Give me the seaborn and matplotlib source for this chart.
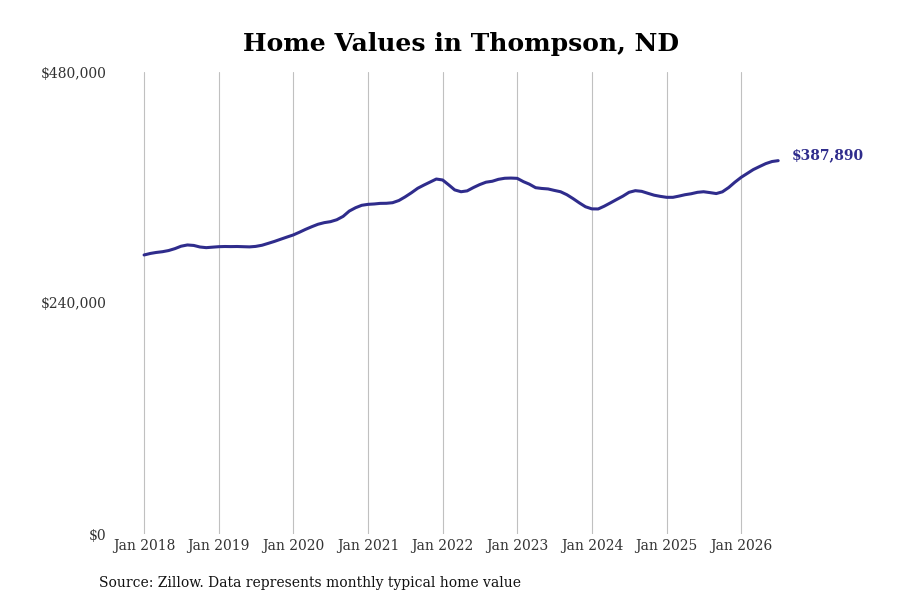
import pandas as pd
import seaborn as sns
import matplotlib.dates as mdates
from matplotlib import pyplot as plt

sns.set_style('white')
plt.rcParams['font.family'] = ['DejaVu Serif']

months = pd.date_range('2018-01-01', '2026-07-01', freq='MS')
values = [
    289900, 291500, 292500, 293300, 294500, 296500, 299000, 300300, 299800, 298200, 297500, 298000,
    298500, 298700, 298600, 298700, 298500, 298300, 298800, 300000, 302000, 304000, 306300, 308500,
    310700, 313600, 316500, 319300, 321800, 323500, 324500, 326500, 330000, 335500, 339000, 341500,
    342500, 342900, 343500, 343600, 344200, 346500, 350200, 354500, 359200, 362500, 365700, 368800,
    367800, 362500, 357500, 355600, 356500, 360000, 363000, 365500, 366500, 368500, 369600, 369800,
    369500, 366000, 363500, 359800, 359000, 358500, 357000, 355600, 352500, 348500, 344000, 340000,
    337800, 337700, 340500, 344000, 347500, 351000, 355000, 356700, 356000, 354000, 352000, 350800,
    349800, 349800, 351000, 352500, 353500, 355000, 355600, 354700, 353700, 355500, 360000, 365500,
    370600, 374800, 378600, 381800, 384800, 387000, 387890,
]
df = pd.DataFrame({'Month': months, 'Value': values})

yticks = [0, 240000, 480000]
ytick_labels = ['$0', '$240,000', '$480,000']
line_color = '#2f2c8c'

fig = plt.figure(figsize=(9, 6), dpi=100)
ax = fig.add_axes([0.124, 0.11, 0.846, 0.77])
sns.lineplot(x='Month', y='Value', data=df, color=line_color, linewidth=2.2, ax=ax)

ax.set_ylim(0, 480000)
ax.set_xlim(pd.Timestamp('2017-07-26'), pd.Timestamp('2027-10-08'))
ax.set_yticks(yticks)
ax.set_yticklabels(ytick_labels)
ax.set_xticks([pd.Timestamp(f'{y}-01-01') for y in range(2018, 2027)])
ax.xaxis.set_major_formatter(mdates.DateFormatter('Jan %Y'))
ax.tick_params(axis='both', length=0, labelsize=10, labelcolor='#333333')
ax.grid(axis='x', color='#c0c0c0', linewidth=0.8)
ax.grid(axis='y', visible=False)
ax.set_xlabel('')
ax.set_ylabel('')
sns.despine(ax=ax, left=True, bottom=True)

last = df.iloc[-1]
ax.annotate(f"${last['Value']:,.0f}", xy=(last['Month'], last['Value']),
            xytext=(9.5, 4), textcoords='offset points', color=line_color,
            fontsize=10, fontweight='bold', va='center', ha='left')

fig.suptitle('Home Values in Thompson, ND', fontsize=18, fontweight='bold',
             color='black', x=0.512, y=0.947)
fig.text(0.11, 0.022, 'Source: Zillow. Data represents monthly typical home value',
         fontsize=10, color='#111111')

fig.savefig('out.png', dpi=100)
